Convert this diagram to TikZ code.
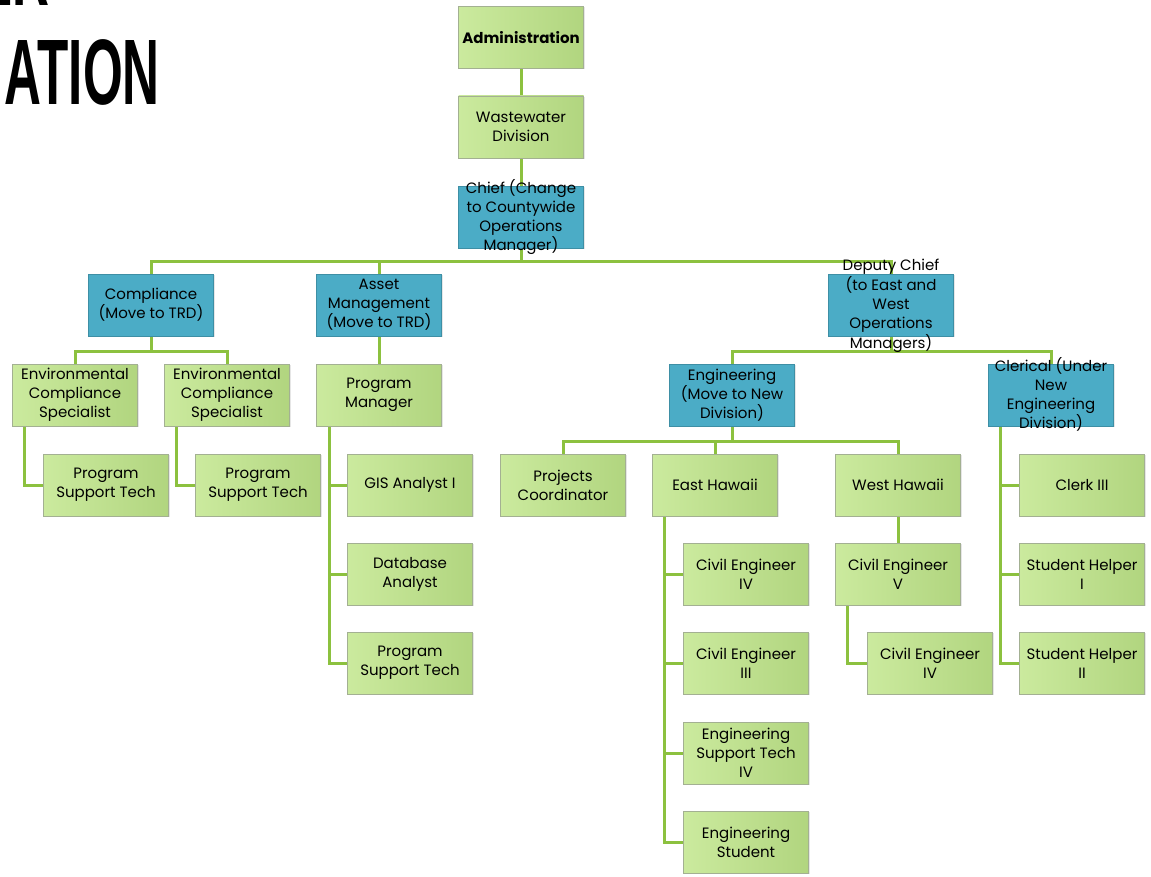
\documentclass[tikz,border=0pt]{standalone}
\usepackage{fontspec}
\usepackage{graphicx}
\setmainfont{Poppins}
\newfontfamily\titlefont{Liberation Sans}
\usetikzlibrary{shadows,backgrounds}
\definecolor{gLeft}{HTML}{CBEA9E}
\definecolor{gRight}{HTML}{B1D57F}
\definecolor{gEdge}{HTML}{A3B092}
\definecolor{bFill}{HTML}{4BACC6}
\definecolor{bEdge}{HTML}{3E8FA5}
\definecolor{link}{HTML}{8CC13F}
\newcommand{\ovl}[1]{\smash{\raisebox{-0.3em}{\begin{tabular}{@{}c@{}}#1\end{tabular}}}}
\tikzset{
    unit/.style={rectangle, minimum width=125pt, minimum height=62pt, inner sep=2pt,
                 align=center, font=\fontsize{15}{19}\selectfont},
    gbox/.style={unit, draw=gEdge, line width=0.8pt, left color=gLeft, right color=gRight,
                 drop shadow={opacity=0.2, shadow xshift=1pt, shadow yshift=-1pt}},
    bbox/.style={unit, draw=bEdge, line width=0.8pt, fill=bFill,
                 drop shadow={opacity=0.2, shadow xshift=1pt, shadow yshift=-1pt}},
    conn/.style={draw=link, line width=3pt},
    bigtitle/.style={inner sep=0pt, font=\titlefont\bfseries\fontsize{93}{93}\selectfont}
}
\begin{document}
\begin{tikzpicture}[x=1pt, y=-1pt]
    \useasboundingbox (0,0) rectangle (1151,877);
    % title, cut off by the page
    \node[bigtitle, anchor=base east] (ttlA) at (50,6) {\scalebox{0.55}[1]{ER}};
    \node[bigtitle, anchor=base east] (ttlB) at (160,105) {\scalebox{0.55}[1]{ATION}};

    % top of the chart
    \node[gbox] (admin) at (521,37.5) {\textbf{Administration}};
    \node[gbox] (wwd) at (521,127) {Wastewater\\Division};
    \node[bbox] (chief) at (521,217) {\ovl{Chief (Change\\to Countywide\\Operations\\Manager)}};

    % second level
    \node[bbox] (comp) at (151,305) {Compliance\\(Move to TRD)};
    \node[bbox] (asset) at (379,305) {Asset\\Management\\(Move to TRD)};
    \node[bbox] (dep) at (891,305) {\ovl{Deputy Chief\\(to East and\\West\\Operations\\Managers)}};

    % compliance branch
    \node[gbox] (ecsA) at (75,395) {Environmental\\Compliance\\Specialist};
    \node[gbox] (ecsB) at (227,395) {Environmental\\Compliance\\Specialist};
    \node[gbox] (pstA) at (106,485) {Program\\Support Tech};
    \node[gbox] (pstB) at (258,485) {Program\\Support Tech};

    % asset management branch
    \node[gbox] (pm) at (379,395) {Program\\Manager};
    \node[gbox] (gis) at (410,485) {GIS Analyst I};
    \node[gbox] (dba) at (410,574) {Database\\Analyst};
    \node[gbox] (pstC) at (410,663) {Program\\Support Tech};

    % deputy chief branch
    \node[bbox] (eng) at (732,395) {Engineering\\(Move to New\\Division)};
    \node[bbox] (cler) at (1051,395) {\ovl{Clerical (Under\\New\\Engineering\\Division)}};
    \node[gbox] (pc) at (563,485) {Projects\\Coordinator};
    \node[gbox] (eh) at (715,485) {East Hawaii};
    \node[gbox] (wh) at (898,485) {West Hawaii};
    \node[gbox] (ceA) at (746,574) {Civil Engineer\\IV};
    \node[gbox] (ceB) at (746,663) {Civil Engineer\\III};
    \node[gbox] (est) at (746,753) {Engineering\\Support Tech\\IV};
    \node[gbox] (es) at (746,842) {Engineering\\Student};
    \node[gbox] (ceC) at (898,574) {Civil Engineer\\V};
    \node[gbox] (ceD) at (930,663) {Civil Engineer\\IV};
    \node[gbox] (clerk) at (1082,485) {Clerk III};
    \node[gbox] (shA) at (1082,574) {Student Helper\\I};
    \node[gbox] (shB) at (1082,663) {Student Helper\\II};

    % connectors, behind the boxes
    \begin{scope}[on background layer]
    \draw[conn] (admin) -- (wwd);
    \draw[conn] (wwd) -- (chief);
    \draw[conn] (chief.south) -- ++(0,13) -| (comp.north);
    \draw[conn] (chief.south) -- ++(0,13) -| (asset.north);
    \draw[conn] (chief.south) -- ++(0,13) -| (dep.north);
    \draw[conn] (comp.south) -- ++(0,15) -| (ecsA.north);
    \draw[conn] (comp.south) -- ++(0,15) -| (ecsB.north);
    \draw[conn] (ecsA.south west) ++(12,0) |- (pstA.west);
    \draw[conn] (ecsB.south west) ++(12,0) |- (pstB.west);
    \draw[conn] (asset) -- (pm);
    \draw[conn] (pm.south west) ++(13,0) |- (gis.west);
    \draw[conn] (pm.south west) ++(13,0) |- (dba.west);
    \draw[conn] (pm.south west) ++(13,0) |- (pstC.west);
    \draw[conn] (dep.south) -- ++(0,15) -| (eng.north);
    \draw[conn] (dep.south) -- ++(0,15) -| (cler.north);
    \draw[conn] (eng.south) -- ++(0,15) -| (pc.north);
    \draw[conn] (eng.south) -- ++(0,15) -| (eh.north);
    \draw[conn] (eng.south) -- ++(0,15) -| (wh.north);
    \draw[conn] (eh.south west) ++(12,0) |- (ceA.west);
    \draw[conn] (eh.south west) ++(12,0) |- (ceB.west);
    \draw[conn] (eh.south west) ++(12,0) |- (est.west);
    \draw[conn] (eh.south west) ++(12,0) |- (es.west);
    \draw[conn] (wh) -- (ceC);
    \draw[conn] (ceC.south west) ++(12,0) |- (ceD.west);
    \draw[conn] (cler.south west) ++(12,0) |- (clerk.west);
    \draw[conn] (cler.south west) ++(12,0) |- (shA.west);
    \draw[conn] (cler.south west) ++(12,0) |- (shB.west);
    \end{scope}
\end{tikzpicture}
\end{document}
